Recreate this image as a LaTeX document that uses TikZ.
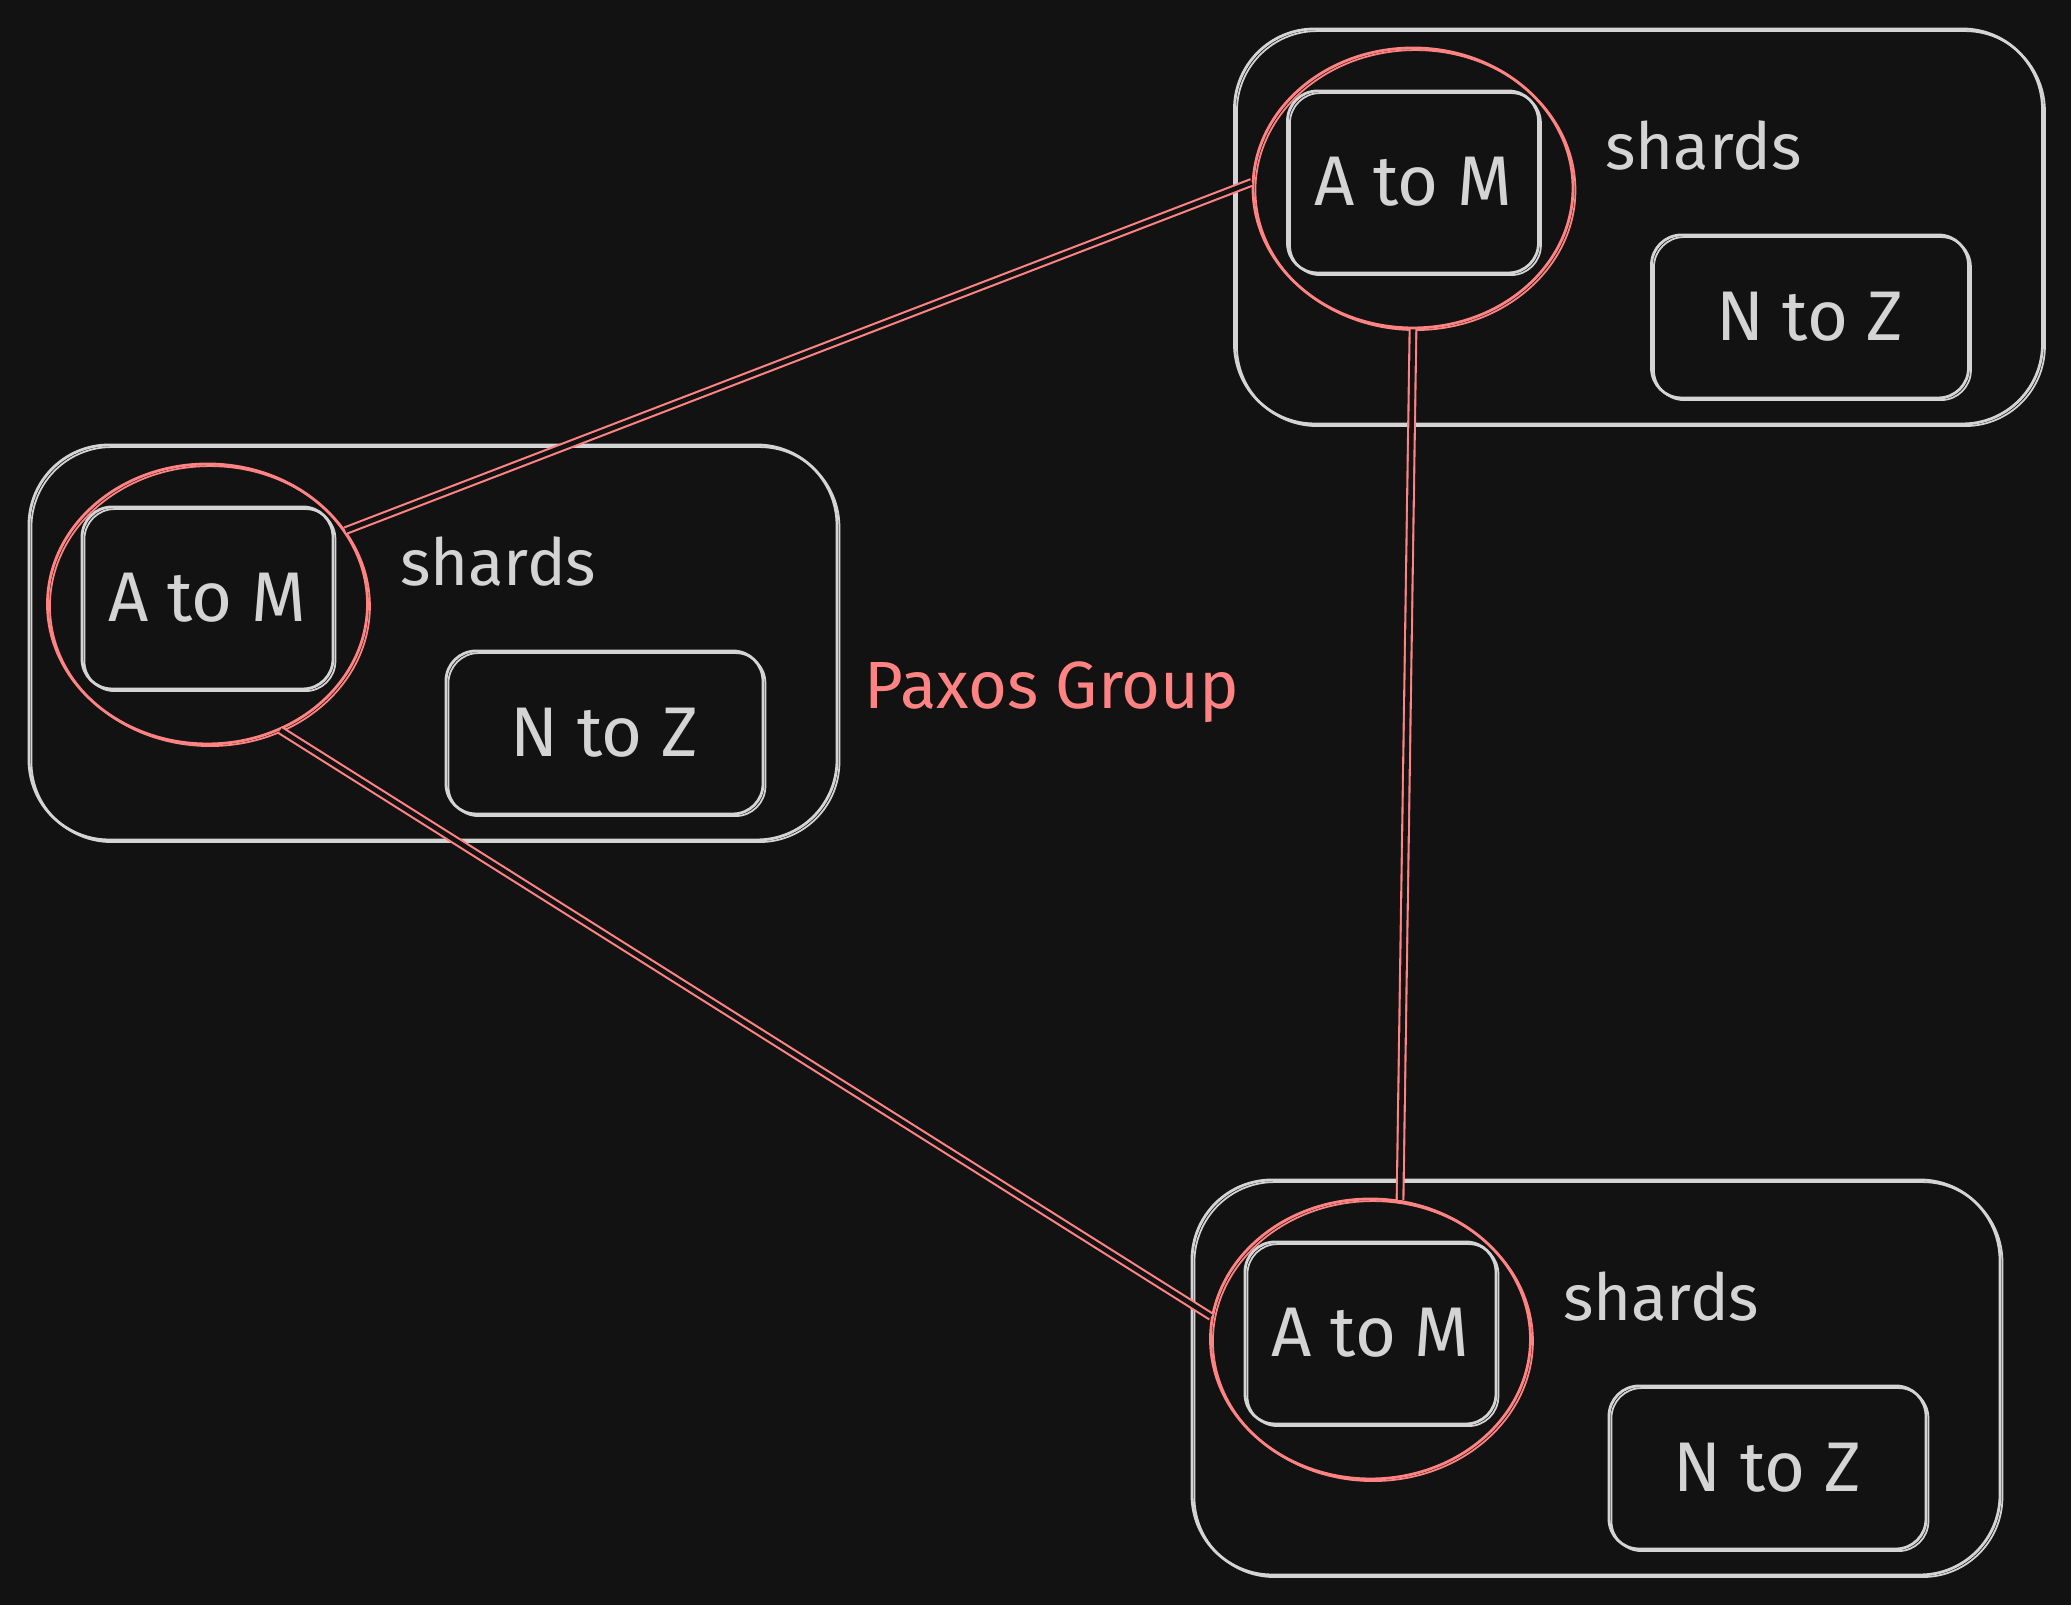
\documentclass[tikz,border=0pt]{standalone}
\usepackage{fontspec}
\setmainfont{Fira Sans}
\usetikzlibrary{positioning,shapes.geometric}
\definecolor{bgdark}{HTML}{121212}
\definecolor{sketchgray}{HTML}{D4D4D4}
\definecolor{paxred}{HTML}{FF8383}

\begin{document}
\begin{tikzpicture}[line width=0.8pt,
        sketch/.style={postaction={draw, line width=0.5pt, transform canvas={shift={(0.7pt,-0.6pt)}}}},
        group box/.style={rectangle, rounded corners=0.8cm, draw=sketchgray, sketch, minimum width=8.08cm, minimum height=3.95cm, inner sep=0pt},
        shard box/.style={rectangle, rounded corners=0.3cm, draw=sketchgray, sketch, text=sketchgray, font=\fontsize{20}{24}\selectfont, inner sep=0pt},
        label text/.style={text=sketchgray, font=\fontsize{18.5}{22}\selectfont, inner sep=0pt},
        leader ring/.style={ellipse, draw=paxred, sketch, minimum width=3.2cm, minimum height=2.8cm, inner sep=0pt},
        link/.style={draw=paxred, double=bgdark, double distance=1.3pt, line width=0.6pt}]

    \fill[bgdark] (0,0) rectangle (20.71,16.05);
    \useasboundingbox (0,0) rectangle (20.71,16.05);

    % Left group
    \node[group box] (lgroup) at (4.33, 9.625) {};
    \node[shard box, minimum width=2.51cm, minimum height=1.82cm, below right=0.62cm and 0.53cm of lgroup.north west] (latm) {A to M};
    \node[shard box, minimum width=3.17cm, minimum height=1.63cm, below right=2.06cm and 4.17cm of lgroup.north west] (lntz) {N to Z};
    \node[label text, below right=0.92cm and 3.71cm of lgroup.north west] (lshards) {shards};
    \node[leader ring, yshift=-0.06cm] (lring) at (latm) {};

    % Top right group
    \node[group box] (tgroup) at (16.385, 13.785) {};
    \node[shard box, minimum width=2.51cm, minimum height=1.82cm, below right=0.62cm and 0.53cm of tgroup.north west] (tatm) {A to M};
    \node[shard box, minimum width=3.17cm, minimum height=1.63cm, below right=2.06cm and 4.17cm of tgroup.north west] (tntz) {N to Z};
    \node[label text, below right=0.92cm and 3.71cm of tgroup.north west] (tshards) {shards};
    \node[leader ring, yshift=-0.06cm] (tring) at (tatm) {};

    % Bottom right group
    \node[group box] (bgroup) at (15.96, 2.275) {};
    \node[shard box, minimum width=2.51cm, minimum height=1.82cm, below right=0.62cm and 0.53cm of bgroup.north west] (batm) {A to M};
    \node[shard box, minimum width=3.17cm, minimum height=1.63cm, below right=2.06cm and 4.17cm of bgroup.north west] (bntz) {N to Z};
    \node[label text, below right=0.92cm and 3.71cm of bgroup.north west] (bshards) {shards};
    \node[leader ring, yshift=-0.06cm] (bring) at (batm) {};

    \node[label text, text=paxred, font=\fontsize{19}{23}\selectfont, right=0.25cm of lgroup, yshift=-0.5cm] (paxos) {Paxos Group};

    % Links between the group leaders
    \path[link] (lring.28) -- (tring.178);
    \path[link] (tring.270) -- (bring.78);
    \path[link] (lring.300) -- (bring.172);

\end{tikzpicture}
\end{document}
